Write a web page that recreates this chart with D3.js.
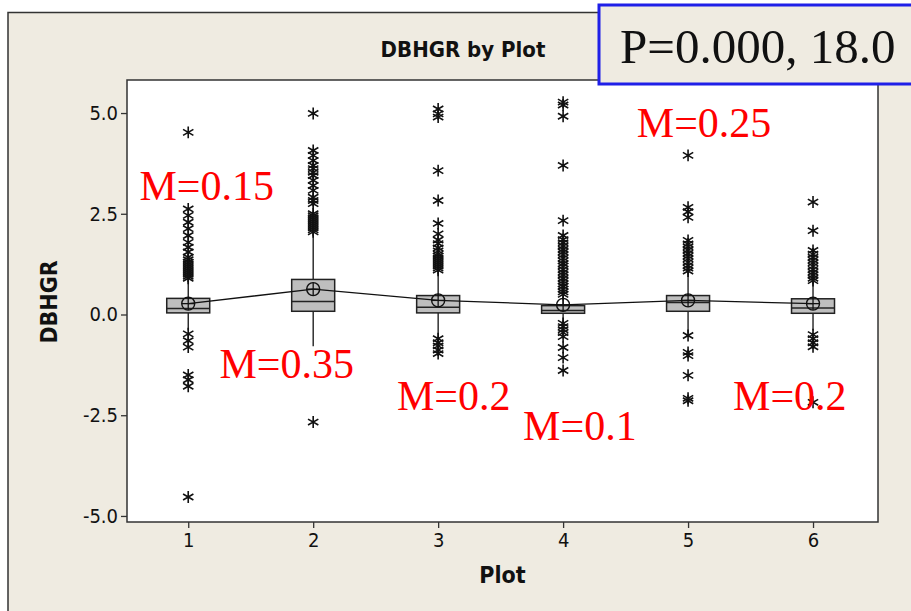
<!DOCTYPE html>
<html>
<head>
<meta charset="utf-8">
<script src="https://cdn.jsdelivr.net/npm/d3@7"></script>
<style>
  html, body { margin: 0; padding: 0; background: #ffffff; }
  svg { display: block; }
  .tick text { font-family: "DejaVu Sans Condensed", "DejaVu Sans", sans-serif; font-size: 20px; fill: #111; }
</style>
</head>
<body>
<svg id="chart" width="911" height="611"></svg>
<script>
// Plot groups on the x axis
const plots = [1, 2, 3, 4, 5, 6];

// Box summaries for DBHGR in each plot
const q1 = [0.04, 0.08, 0.04, 0.03, 0.08, 0.03];
const medians = [0.15, 0.32, 0.18, 0.10, 0.30, 0.16];
const q3 = [0.40, 0.87, 0.47, 0.22, 0.47, 0.39];
const whiskerLow = [-0.40, -0.79, -0.65, -0.19, -0.48, -0.40];
const whiskerHigh = [0.84, 2.00, 1.05, 0.43, 1.01, 0.80];
const means = [0.27, 0.63, 0.35, 0.24, 0.35, 0.27];

// Outlying observations per plot
const outliers1 = [4.52, 2.62, 2.46, 2.29, 2.13, 1.96, 1.79, 1.67, 1.55, 1.42, 1.36, 1.3, 1.25, 1.2, 1.15, 1.1, 1.05, 1.0, 0.95, 0.9,
  -0.48, -0.65, -0.81, -1.5, -1.62, -1.78, -4.53];
const outliers2 = [4.99, 4.07, 3.95, 3.82, 3.7, 3.62, 3.53, 3.45, 3.33, 3.2, 3.08, 2.91, 2.83, 2.75, 2.5, 2.45, 2.4, 2.35, 2.3, 2.25, 2.2, 2.15, 2.1, 2.05,
  -2.67];
const outliers3 = [5.1, 4.98, 4.9, 3.57, 2.83, 2.26, 2.0, 1.85, 1.76, 1.65, 1.58, 1.5, 1.45, 1.4, 1.35, 1.3, 1.25, 1.2, 1.15, 1.1,
  -0.6, -0.7, -0.78, -0.88, -0.97];
const outliers4 = [5.27, 5.2, 4.92, 3.7, 2.33, 1.96, 1.86, 1.78, 1.7, 1.62, 1.55, 1.48, 1.4, 1.33, 1.26, 1.2, 1.12, 1.05, 0.98, 0.9, 0.83, 0.76, 0.7, 0.63, 0.56, 0.5,
  -0.22, -0.3, -0.38, -0.45, -0.55, -0.82, -1.07, -1.39];
const outliers5 = [3.95, 2.66, 2.55, 2.41, 1.84, 1.75, 1.68, 1.6, 1.52, 1.45, 1.38, 1.3, 1.22, 1.15, 1.08,
  -0.52, -0.94, -1.02, -1.51, -2.08, -2.14];
const outliers6 = [2.79, 2.08, 1.59, 1.5, 1.42, 1.35, 1.28, 1.2, 1.12, 1.05, 0.98, 0.9, 0.84,
  -0.5, -0.6, -0.7, -0.8, -2.18];
const outliers = [outliers1, outliers2, outliers3, outliers4, outliers5, outliers6];

// Axis ticks
const yTicks = [5, 2.5, 0, -2.5, -5];

// Median annotations: text and where they sit (plot position, DBHGR value)
const noteText = ["M=0.15", "M=0.35", "M=0.2", "M=0.1", "M=0.25", "M=0.2"];
const noteX = [0.61, 1.25, 2.67, 3.68, 4.59, 5.36];
const noteY = [2.84, -1.57, -2.37, -3.12, 4.41, -2.37];

const pTest = "P=0.000, 18.0";

const svg = d3.select("#chart");
const plotArea = { left: 127, right: 878, top: 80, bottom: 522 };

const x = d3.scaleLinear().domain([0.51, 6.52]).range([plotArea.left, plotArea.right]);
const y = d3.scaleLinear().domain([-5.15, 5.82]).range([plotArea.bottom, plotArea.top]);

// Outer frame
svg.append("rect")
  .attr("x", 8).attr("y", 12.5).attr("width", 1000).attr("height", 1000)
  .attr("fill", "#efebe1").attr("stroke", "#333").attr("stroke-width", 1.5);

// Data region
svg.append("rect")
  .attr("x", plotArea.left).attr("y", plotArea.top)
  .attr("width", plotArea.right - plotArea.left).attr("height", plotArea.bottom - plotArea.top)
  .attr("fill", "#ffffff").attr("stroke", "#333").attr("stroke-width", 1.5);

// Axes
const yAxis = svg.append("g")
  .attr("transform", `translate(${plotArea.left},0)`)
  .call(d3.axisLeft(y).tickValues(yTicks).tickFormat(d => d.toFixed(1)).tickSize(6).tickPadding(3));
const xAxis = svg.append("g")
  .attr("transform", `translate(0,${plotArea.bottom})`)
  .call(d3.axisBottom(x).tickValues(plots).tickFormat(d3.format("d")).tickSize(6).tickPadding(5));
[yAxis, xAxis].forEach(g => {
  g.select(".domain").remove();
  g.selectAll(".tick line").attr("stroke", "#333").attr("stroke-width", 1.3);
});

const boxHalf = 0.172;
const groups = plots.map((p, i) => ({
  p, q1: q1[i], med: medians[i], q3: q3[i], lo: whiskerLow[i], hi: whiskerHigh[i], mean: means[i], out: outliers[i]
}));

// Whiskers
const boxes = svg.append("g");
boxes.selectAll("line.whisker")
  .data(groups).join("line")
  .attr("class", "whisker")
  .attr("x1", d => x(d.p)).attr("x2", d => x(d.p))
  .attr("y1", d => y(d.lo)).attr("y2", d => y(d.hi))
  .attr("stroke", "#111").attr("stroke-width", 1.3);

// Interquartile boxes
boxes.selectAll("rect.box")
  .data(groups).join("rect")
  .attr("class", "box")
  .attr("x", d => x(d.p - boxHalf))
  .attr("width", d => x(d.p + boxHalf) - x(d.p - boxHalf))
  .attr("y", d => y(d.q3))
  .attr("height", d => y(d.q1) - y(d.q3))
  .attr("fill", "#bebebe").attr("stroke", "#222").attr("stroke-width", 1.5);

// Median lines
boxes.selectAll("line.median")
  .data(groups).join("line")
  .attr("class", "median")
  .attr("x1", d => x(d.p - boxHalf)).attr("x2", d => x(d.p + boxHalf))
  .attr("y1", d => y(d.med)).attr("y2", d => y(d.med))
  .attr("stroke", "#222").attr("stroke-width", 1.5);

// Outlier asterisks
const star = d3.symbol().type(d3.symbolAsterisk).size(100);
const outG = svg.append("g");
groups.forEach(g => {
  outG.selectAll(null)
    .data(g.out).join("path")
    .attr("transform", v => `translate(${x(g.p)},${y(v)})`)
    .attr("d", star)
    .attr("fill", "none").attr("stroke", "#111").attr("stroke-width", 1.6);
});

// Line joining the means
svg.append("path")
  .datum(groups)
  .attr("d", d3.line().x(d => x(d.p)).y(d => y(d.mean)))
  .attr("fill", "none").attr("stroke", "#111").attr("stroke-width", 1.3);

// Mean symbols: circle with a cross
const meanG = svg.append("g").selectAll("g")
  .data(groups).join("g")
  .attr("transform", d => `translate(${x(d.p)},${y(d.mean)})`);
meanG.append("circle").attr("r", 6.5).attr("fill", "none").attr("stroke", "#111").attr("stroke-width", 1.4);
meanG.append("line").attr("x1", -6.5).attr("x2", 6.5).attr("stroke", "#111").attr("stroke-width", 1.3);
meanG.append("line").attr("y1", -6.5).attr("y2", 6.5).attr("stroke", "#111").attr("stroke-width", 1.3);

// Titles
const bold = "'DejaVu Sans Condensed', 'DejaVu Sans', sans-serif";
svg.append("text")
  .attr("x", 463).attr("y", 57)
  .attr("text-anchor", "middle")
  .attr("font-family", bold).attr("font-weight", "bold").attr("font-size", 22)
  .attr("fill", "#111")
  .text("DBHGR by Plot");
svg.append("text")
  .attr("x", (plotArea.left + plotArea.right) / 2).attr("y", 583)
  .attr("text-anchor", "middle")
  .attr("font-family", bold).attr("font-weight", "bold").attr("font-size", 23)
  .attr("fill", "#111")
  .text("Plot");
svg.append("text")
  .attr("transform", "translate(57,302) rotate(-90)")
  .attr("text-anchor", "middle")
  .attr("font-family", bold).attr("font-weight", "bold").attr("font-size", 23)
  .attr("fill", "#111")
  .text("DBHGR");

// Median annotations
svg.append("g").selectAll("text")
  .data(noteText).join("text")
  .attr("x", (d, i) => x(noteX[i]))
  .attr("y", (d, i) => y(noteY[i]))
  .attr("font-family", "'Liberation Serif', serif").attr("font-size", 42)
  .attr("fill", "#ff0000")
  .text(d => d);

// Test result box
svg.append("rect")
  .attr("x", 599).attr("y", 5).attr("width", 400).attr("height", 79)
  .attr("fill", "#efebe1").attr("stroke", "#1f1fe8").attr("stroke-width", 3);
svg.append("text")
  .attr("x", 620).attr("y", 63)
  .attr("font-family", "'Liberation Serif', serif").attr("font-size", 49)
  .attr("fill", "#111")
  .text(pTest);
</script>
</body>
</html>
